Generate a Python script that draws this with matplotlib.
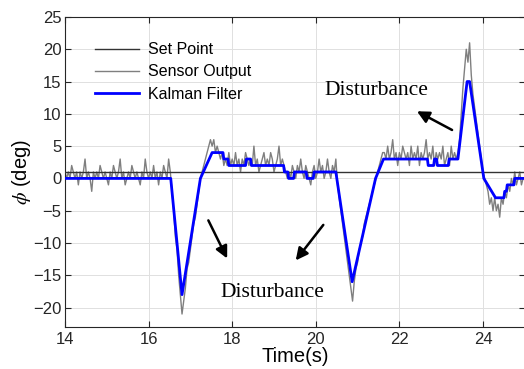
import numpy as np
import matplotlib
matplotlib.use("Agg")
import matplotlib.pyplot as plt

plt.rcParams["font.family"] = ["Liberation Sans", "DejaVu Sans"]
plt.rcParams["mathtext.fontset"] = "stix"

# 设定值
setpoint_t = [14.0, 25.0]
setpoint_v = [1, 1]

# 传感器输出, 采样间隔 0.04 s, 从 14.00 s 开始
sensor_dt = 0.04
sensor_v = [
    # 14.00 - 16.52
    1, 0, 1, 0, 2, 1, 0, 1, -1, 1,
    0, 1, 3, 0, 1, 0, -2, 1, 0, 1,
    0, 2, 1, 0, 1, 0, -1, 1, 0, 2,
    1, 0, 1, 3, 0, 1, -1, 0, 1, 0,
    2, 1, 0, 1, 0, -1, 1, 0, 3, 1,
    0, 1, 0, 2, 0, 1, -1, 1, 0, 2,
    1, 0, 3, 1,
    # 16.56 - 17.24
    -2, -5, -9, -11, -15, -18, -21, -19, -17, -14,
    -13, -11, -9, -7, -6, -4, -2, 0,
    # 17.28 - 17.96
    1, 2, 3, 4, 5, 6, 5, 6, 4, 5, 4, 3, 4, 2, 3, 2, 4, 2,
    # 18.00 - 19.20
    3, 2, 4, 2, 3, 1, 3, 2, 4, 3,
    2, 3, 2, 5, 2, 3, 1, 2, 3, 4,
    2, 3, 2, 4, 3, 1, 2, 3, 5, 2,
    3,
    # 19.24 - 20.48
    2, 1, 0, 1, 0, 2, 1, 0, 2, 1,
    3, 1, 0, 2, 1, 0, -1, 1, 2, 0,
    1, 3, 1, 2, 0, 1, 3, 1, 0, 2,
    1, 3,
    # 20.52 - 21.60
    -1, -3, -5, -7, -9, -11, -13, -15, -17, -19,
    -16, -14, -13, -11, -10, -9, -7, -6, -5, -4,
    -3, -2, -1, 0, 1, 2, 3, 4,
    # 21.64 - 23.36
    4, 3, 5, 3, 4, 6, 3, 4, 2, 4,
    3, 5, 4, 3, 4, 2, 5, 3, 4, 3,
    5, 2, 4, 3, 4, 6, 3, 4, 3, 5,
    2, 4, 3, 4, 3, 5, 2, 3, 4, 2,
    5, 3, 4, 3,
    # 23.40 - 25.00
    4, 6, 10, 14, 17, 20, 18, 21, 16, 13,
    11, 9, 7, 5, 3, 1, 0, -1, -2, -4,
    -3, -5, -3, -5, -4, -6, -3, -4, -2, -3,
    -1, -2, 0, -1, 1, -1, 0, 1, -1, 0,
    0,
]
sensor_t = 14.0 + sensor_dt * np.arange(len(sensor_v))

# 卡尔曼滤波输出 (折点)
kalman_t = [14.00, 16.53, 16.80, 17.24, 17.52, 17.78, 17.80, 17.90, 17.92,
            18.32, 18.34, 18.44, 18.46, 19.23, 19.25, 19.33, 19.35, 19.47,
            19.49, 19.77, 19.79, 19.94, 19.96, 20.48, 20.87, 21.43, 21.62,
            22.67, 22.69, 22.82, 22.84, 22.89, 22.91, 23.17, 23.19, 23.40,
            23.62, 23.68, 24.02, 24.30, 24.50, 24.52, 24.56, 24.58, 24.74,
            24.76, 25.00]
kalman_v = [0, 0, -18, 0, 4, 4, 3, 3, 2,
            2, 3, 3, 2, 2, 1, 1, 0, 0,
            1, 1, 0, 0, 1, 1, -16, 0, 3,
            3, 2, 2, 3, 3, 2, 2, 3, 3,
            15, 15, 0, -3, -3, -2, -2, -1, -1,
            0, 0]

# 扰动标注: (文字位置, 箭头尾, 箭头头)
label_top = (21.46, 13.6)
label_bottom = (18.96, -17.7)
arrows = [((23.26, 7.5), (22.42, 10.4)),
          ((17.43, -6.5), (17.88, -12.4)),
          ((20.18, -7.2), (19.52, -12.7))]

fig = plt.figure(figsize=(5.24, 3.69), dpi=100)
ax = fig.add_axes([0.124, 0.114, 0.8775, 0.840])

h_sensor, = ax.plot(sensor_t, sensor_v, color="#7f7f7f", linewidth=1.0,
                    label="Sensor Output", zorder=2)
h_set, = ax.plot(setpoint_t, setpoint_v, color="#333333", linewidth=1.0,
                 label="Set Point", zorder=3)
h_kf, = ax.plot(kalman_t, kalman_v, color="#0000ff", linewidth=2.0,
                label="Kalman Filter", zorder=4)

for tail, head in arrows:
    ax.annotate("", xy=head, xytext=tail,
                arrowprops=dict(arrowstyle="-|>", color="black", lw=1.8,
                                mutation_scale=18, shrinkA=0, shrinkB=0))
for pos in (label_top, label_bottom):
    ax.text(pos[0], pos[1], "Disturbance", family="Liberation Serif",
            fontsize=15.5, ha="center", va="center")

ax.set_xlim(14, 25)
ax.set_ylim(-23, 25)
ax.set_xticks([14, 16, 18, 20, 22, 24])
ax.set_yticks(range(-20, 26, 5))
ax.tick_params(direction="in", length=4, labelsize=12, colors="#262626",
               top=True, right=True, pad=3.5)
ax.tick_params(axis="y", pad=2.5)
for sp in ax.spines.values():
    sp.set_color("#262626")
    sp.set_linewidth(0.8)
ax.grid(True, color="#e0e0e0", linewidth=0.7)
ax.set_axisbelow(True)

ax.set_xlabel("Time(s)", fontsize=14.5, labelpad=0)
ax.set_ylabel(r"$\phi$ (deg)", fontsize=14.5, labelpad=0)

ax.legend(handles=[h_set, h_sensor, h_kf], loc="upper left",
          bbox_to_anchor=(0.035, 0.965), frameon=False, fontsize=11.5,
          handlelength=2.7, handletextpad=0.6, labelspacing=0.45)

fig.savefig("out.png", dpi=100)
